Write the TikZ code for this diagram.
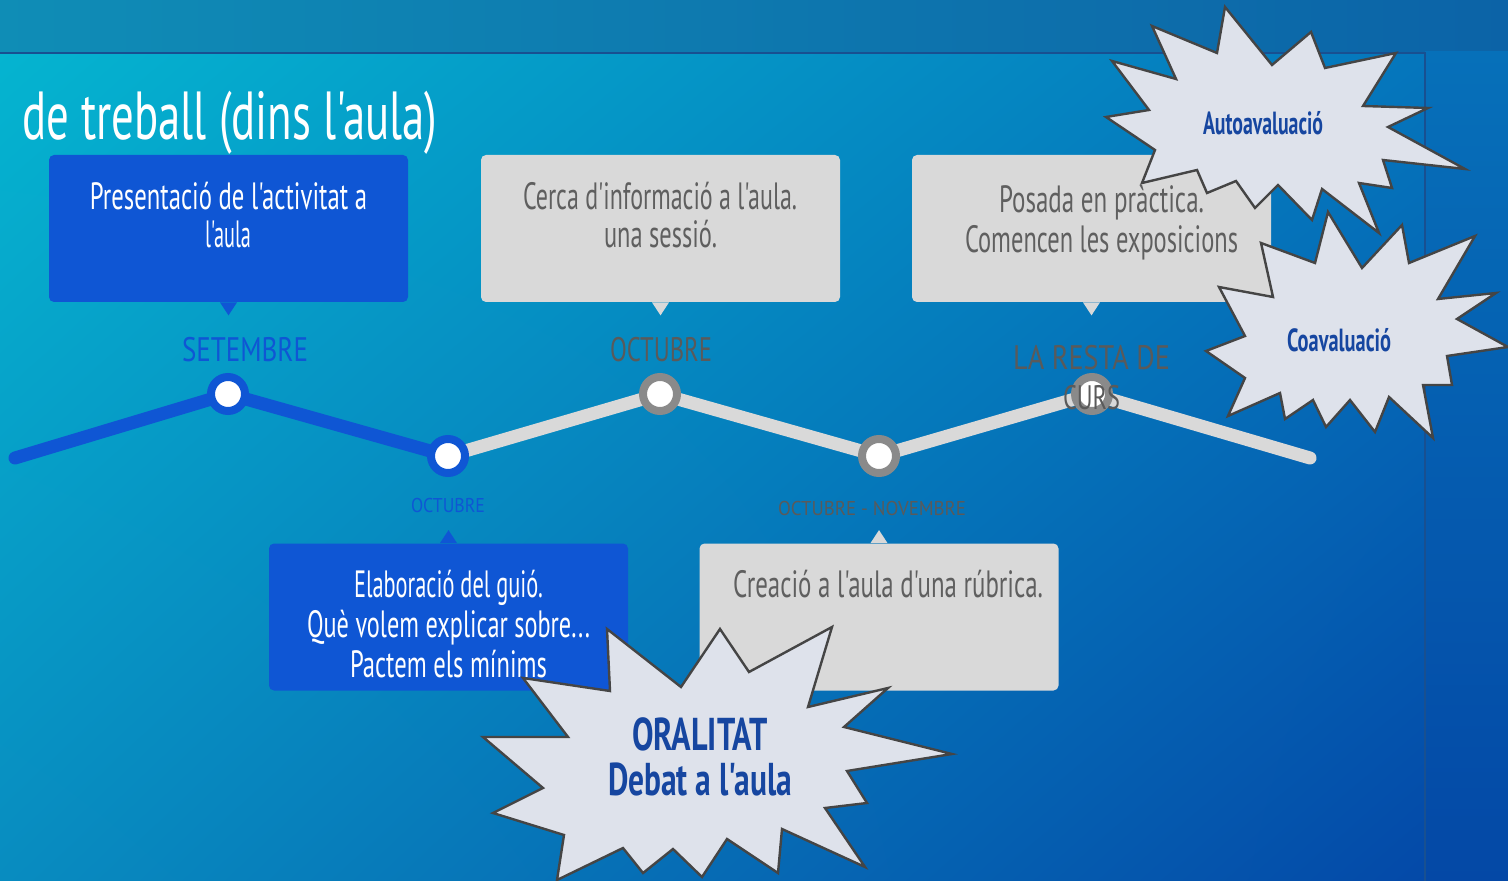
\documentclass[tikz,border=0pt]{standalone}
\usepackage{fontspec}
\setmainfont{PT Sans}[Ligatures=TeXOff]
\usepackage{graphicx}
\usetikzlibrary{shadings}
\newcommand\fw[2]{\resizebox{#1}{\height}{#2}}
\newcommand\ap{\char"0027\relax}
\definecolor{boxblue}{RGB}{15,86,212}
\definecolor{boxgrey}{RGB}{217,217,217}
\definecolor{txtgrey}{RGB}{95,95,95}
\definecolor{lblgrey}{RGB}{90,90,90}
\definecolor{dotgrey}{RGB}{138,138,138}
\definecolor{starfill}{RGB}{222,226,235}
\definecolor{starline}{RGB}{69,69,69}
\definecolor{starblue}{RGB}{22,70,160}
\definecolor{bgTL}{RGB}{5,180,208}
\definecolor{bgTR}{RGB}{5,118,188}
\definecolor{bgBL}{RGB}{8,140,192}
\definecolor{bgBR}{RGB}{4,73,168}
\definecolor{bandL}{RGB}{15,141,182}
\definecolor{bandR}{RGB}{12,99,167}
\definecolor{panT}{RGB}{6,112,185}
\definecolor{panB}{RGB}{4,72,166}
\definecolor{sepline}{RGB}{24,80,145}
\begin{document}
\begin{tikzpicture}[x=0.5pt,y=-0.5pt,
  tl/.style={line width=6.5pt,line cap=round,line join=round},
  dotnode/.style={circle,minimum size=17pt,inner sep=0pt,fill=white,line width=4pt},
  bluebox/.style={rectangle,rounded corners=2.5pt,fill=boxblue,minimum width=179.5pt,minimum height=73.5pt,inner sep=0pt},
  greybox/.style={rectangle,rounded corners=2.5pt,fill=boxgrey,minimum width=179.5pt,minimum height=73.5pt,inner sep=0pt},
  txt/.style={anchor=base,inner sep=0pt,font=\fontsize{19}{19}\selectfont},
  lbl/.style={anchor=base,inner sep=0pt,font=\fontsize{17}{17}\selectfont},
  slbl/.style={anchor=base,inner sep=0pt,font=\fontsize{10}{10}\selectfont},
  starshape/.style={fill=starfill,draw=starline,line width=1.2pt,line join=miter},
  startxt/.style={anchor=base,inner sep=0pt,text=starblue,font=\bfseries\fontsize{16}{16}\selectfont},
  bigstartxt/.style={anchor=base,inner sep=0pt,text=starblue,font=\bfseries\fontsize{23}{23}\selectfont}
]
\useasboundingbox (0,0) rectangle (1508,881);
% background
\shade[upper left=bgTL,upper right=bgTR,lower left=bgBL,lower right=bgBR] (0,52) rectangle (1425,881);
\shade[left color=bandL,right color=bandR] (0,0) rectangle (1508,52);
\shade[top color=panT,bottom color=panB] (1425,52) rectangle (1508,881);
\draw[line width=1pt,sepline] (0,53) -- (1425,53) -- (1425,881);
% title
\node[anchor=base west,inner sep=0pt,text=white,font=\fontsize{34}{34}\selectfont] (title) at (22,140) {\fw{207.5pt}{de treball (dins l\ap aula)}};
% boxes
\node[bluebox] (b1) at (228.5,228.5) {};
\node[greybox] (b2) at (660.5,228.5) {};
\node[greybox] (b3) at (1091.5,228.5) {};
\node[bluebox] (b4) at (448.5,617) {};
\node[greybox] (b5) at (879,617) {};
\fill[boxblue] (b1.south) ++(-8.5,0) -- ++(17,0) -- ++(-8.5,13) -- cycle;
\fill[boxgrey] (b2.south) ++(-8.5,0) -- ++(17,0) -- ++(-8.5,13) -- cycle;
\fill[boxgrey] (b3.south) ++(-8.5,0) -- ++(17,0) -- ++(-8.5,13) -- cycle;
\fill[boxblue] (b4.north) ++(-8.5,0) -- ++(17,0) -- ++(-8.5,-13) -- cycle;
\fill[boxgrey] (b5.north) ++(-8.5,0) -- ++(17,0) -- ++(-8.5,-13) -- cycle;
% box texts
\node[txt,text=white] (t1a) at (228.5,210) {\fw{138.5pt}{Presentació de l\ap activitat a}};
\node[txt,text=white] (t1b) at (228,248) {\fw{23pt}{l\ap aula}};
\node[txt,text=txtgrey] (t2a) at (660,210) {\fw{137pt}{Cerca d\ap informació a l\ap aula.}};
\node[txt,text=txtgrey] (t2b) at (660.5,248) {\fw{56.5pt}{una sessió.}};
\node[txt,text=txtgrey] (t3a) at (1101.5,213) {\fw{102.5pt}{Posada en pràctica.}};
\node[txt,text=txtgrey] (t3b) at (1101.5,253) {\fw{136.5pt}{Comencen les exposicions}};
\node[txt,text=white] (t4a) at (448.5,597) {\fw{94.5pt}{Elaboració del guió.}};
\node[txt,text=white] (t4b) at (448.5,637) {\fw{141.5pt}{Què volem explicar sobre...}};
\node[txt,text=white] (t4c) at (448.5,677) {\fw{98.5pt}{Pactem els mínims}};
\node[txt,text=txtgrey] (t5a) at (888,597) {\fw{155pt}{Creació a l\ap aula d\ap una rúbrica.}};
% timeline
\coordinate (p0) at (15,458);
\coordinate (p1) at (228,394);
\coordinate (p2) at (448,456);
\coordinate (p3) at (660,394);
\coordinate (p4) at (879,456);
\coordinate (p5) at (1092,394);
\coordinate (p6) at (1310,458);
\draw[tl,boxgrey] (p2) -- (p3) -- (p4) -- (p5) -- (p6);
\draw[tl,boxblue] (p0) -- (p1) -- (p2);
\node[dotnode,draw=boxblue] (d1) at (p1) {};
\node[dotnode,draw=boxblue] (d2) at (p2) {};
\node[dotnode,draw=dotgrey] (d3) at (p3) {};
\node[dotnode,draw=dotgrey] (d4) at (p4) {};
\node[dotnode,draw=dotgrey] (d5) at (p5) {};
% labels
\node[lbl,text=boxblue] (l1) at (245,362) {\fw{63pt}{SETEMBRE}};
\node[lbl,text=lblgrey] (l3) at (661,362) {\fw{51pt}{OCTUBRE}};
\node[lbl,text=lblgrey] (l5a) at (1091.5,370) {\fw{78.5pt}{LA RESTA DE}};
\node[lbl,text=lblgrey] (l5b) at (1091.5,410) {\fw{28.5pt}{CURS}};
\node[slbl,text=boxblue] (l2) at (448,512) {\fw{37pt}{OCTUBRE}};
\node[slbl,text=lblgrey] (l4) at (872,515) {\fw{94pt}{OCTUBRE - NOVEMBRE}};
% stars
\draw[starshape] (1225,7) -- (1272,65) -- (1311,32) -- (1325,68) -- (1396,53) -- (1363,106) -- (1428,108) -- (1388,127) -- (1465,169) -- (1383,160) -- (1392,188) -- (1359,183) -- (1379,233) -- (1322,189) -- (1312,220) -- (1278,185) -- (1255,208) -- (1236,181) -- (1207,193) -- (1197,170) -- (1142,183) -- (1155,150) -- (1106,117) -- (1149,110) -- (1112,61) -- (1176,79) -- (1152,26) -- (1217,53) -- cycle;
\node[startxt] (s1) at (1263,135) {\fw{60pt}{Autoavaluació}};
\draw[starshape] (1328,212) -- (1362,268) -- (1402,225) -- (1409,263) -- (1475,236) -- (1438,299) -- (1496,293) -- (1457,319) -- (1508,347) -- (1447,356) -- (1452,385) -- (1423,385) -- (1433,438) -- (1389,397) -- (1375,432) -- (1350,400) -- (1326,427) -- (1313,400) -- (1285,419) -- (1280,393) -- (1228,416) -- (1245,378) -- (1206,351) -- (1245,336) -- (1219,287) -- (1273,297) -- (1261,243) -- (1315,263) -- cycle;
\node[startxt] (s2) at (1339,352) {\fw{52pt}{Coavaluació}};
\draw[starshape] (720,629) -- (749,672) -- (832,627) -- (808,707) -- (888,688) -- (844,727) -- (952,754) -- (847,771) -- (867,803) -- (825,808) -- (865,867) -- (782,829) -- (778,873) -- (727,839) -- (702,877) -- (673,849) -- (643,873) -- (623,848) -- (557,880) -- (564,835) -- (493,813) -- (543,788) -- (483,737) -- (568,737) -- (523,678) -- (610,691) -- (607,629) -- (681,687) -- cycle;
\node[bigstartxt] (s3a) at (700,750) {\fw{68pt}{ORALITAT}};
\node[bigstartxt] (s3b) at (700,795) {\fw{92pt}{Debat a l\ap aula}};
\end{tikzpicture}
\end{document}
